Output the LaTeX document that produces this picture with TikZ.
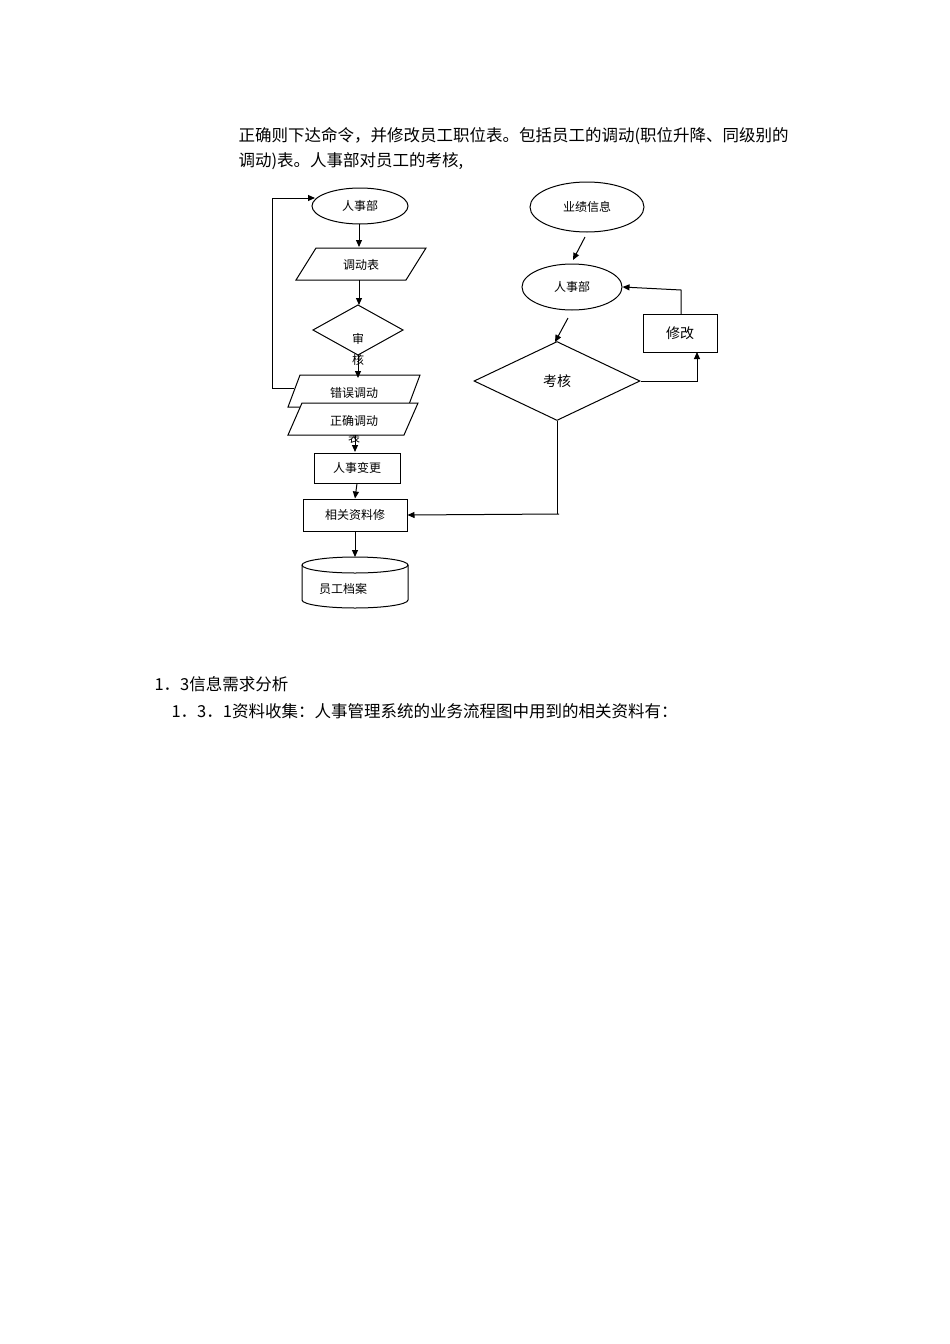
\documentclass[tikz,border=0pt]{standalone}
\usepackage{fontspec}
\setmainfont{Noto Sans CJK SC}
\usetikzlibrary{shapes.geometric,arrows.meta}
\begin{document}
\begin{tikzpicture}[x=1pt,y=-1pt,
  ln/.style={draw=black,line width=1pt},
  ar/.style={ln,-{Triangle[length=7pt,width=6pt]}},
  lbl/.style={font=\fontsize{12}{12}\selectfont},
  body/.style={font=\fontsize{16.5}{16.5}\selectfont,anchor=west}]
\useasboundingbox[fill=white](0,0) rectangle (950,1344);
\node[body] (t1) at (235,136) {正确则下达命令，并修改员工职位表。包括员工的调动(职位升降、同级别的};
\node[body] (t2) at (235,161) {调动)表。人事部对员工的考核,};
% left column
\node[ln,ellipse,minimum width=96pt,minimum height=36pt,inner sep=0pt,lbl] (e1) at (360,206) {人事部};
\draw[ln,fill=white] (316,248)--(426,248)--(406,280)--(296,280)--cycle;
\node[lbl] (p1) at (361,265) {调动表};
\draw[ln] (358,305)--(403,330)--(358,355)--(313,330)--cycle;
\node[lbl] (d1) at (358,339) {审};
\node[lbl] (d1b) at (358,360) {核};
\draw[ln,fill=white] (300,375)--(420,375)--(408,407)--(288,407)--cycle;
\node[lbl] (p2) at (354,393) {错误调动};
\node[lbl] (p3b) at (354,438) {表};
\draw[ln,fill=white] (302,403)--(418,403)--(404,435)--(288,435)--cycle;
\node[lbl] (p3) at (354,421) {正确调动};
\node[ln,minimum width=86pt,minimum height=30pt,inner sep=0pt,lbl] (r1) at (357,468) {人事变更};
\node[ln,minimum width=104pt,minimum height=32pt,inner sep=0pt,lbl] (r2) at (355,515) {相关资料修};
\draw[ln,fill=white] (302,565)--(302,600) arc[start angle=180,end angle=0,x radius=53,y radius=8]--(408,565) arc[start angle=0,end angle=-180,x radius=53,y radius=8];
\draw[ln] (302,565) arc[start angle=180,end angle=0,x radius=53,y radius=8];
\node[lbl] (cyl) at (343,589) {员工档案};
\coordinate (a1) at (359,224); \coordinate (a1e) at (359,247);
\draw[ar] (a1)--(a1e);
\coordinate (a2) at (359,280); \coordinate (a2e) at (359,305);
\draw[ar] (a2)--(a2e);
\coordinate (a3) at (358,355); \coordinate (a3e) at (358,378);
\draw[ar] (a3)--(a3e);
\coordinate (a4) at (355,435); \coordinate (a4e) at (355,452);
\draw[ar] (a4)--(a4e);
\draw[ar] (r1.south)--(r2.north);
\coordinate (a6e) at (355,557);
\draw[ar] (r2.south)--(a6e);
\coordinate (l1) at (294,388);
\draw[ar] (l1)--(272,388)--(272,198)--(315,198);
% right column
\node[ln,ellipse,minimum width=114pt,minimum height=50pt,inner sep=0pt,lbl] (e2) at (587,207) {业绩信息};
\node[ln,ellipse,minimum width=100pt,minimum height=46pt,inner sep=0pt,lbl] (e3) at (572,287) {人事部};
\node[ln,diamond,aspect=2.1,minimum width=166pt,minimum height=79pt,inner sep=0pt,font=\fontsize{14}{14}\selectfont] (d2) at (557,381) {考核};
\node[ln,minimum width=74pt,minimum height=38pt,inner sep=0pt,font=\fontsize{14}{14}\selectfont] (r3) at (680,333) {修改};
\coordinate (b1) at (585,237); \coordinate (b1e) at (573,260);
\draw[ar] (b1)--(b1e);
\coordinate (b2) at (568,318); \coordinate (b2e) at (555,342);
\draw[ar] (b2)--(b2e);
\draw[ar] (d2.east)--(697,381)--(697,352);
\coordinate (m1) at (681,314);
\draw[ar] (m1)--(681,290)--(e3.east);
\draw[ln] (d2.south)--(557,514);
\coordinate (k1) at (559,514);
\draw[ar] (k1)--(r2.east);
% bottom text
\node[body] (h1) at (151,684) {1．3信息需求分析};
\node[body] (h2) at (168,711) {1．3．1资料收集：人事管理系统的业务流程图中用到的相关资料有：};
\end{tikzpicture}
\end{document}
